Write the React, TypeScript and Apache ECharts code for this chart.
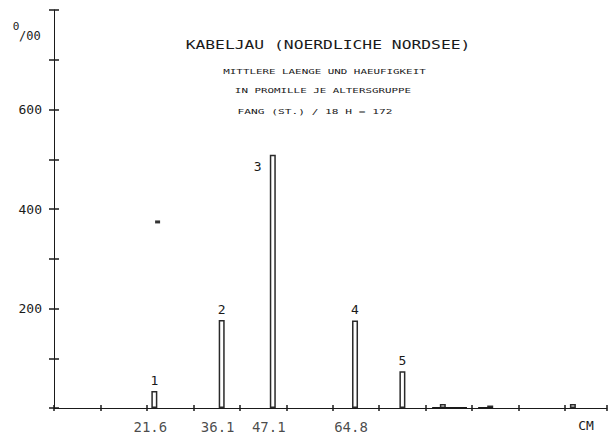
import React, { useEffect, useRef } from "react";
import * as echarts from "echarts";

// ---- data ----
const groupLabels = ["1", "2", "3", "4", "5"];
const meanLengths = [21.6, 36.1, 47.1, 64.8, 75.0];
const perMille = [34, 177, 509, 176, 74];
const minorLengths = [83.7, 93.9, 111.7];
const minorPerMille = [8, 5, 8];
const lengthTickLabels = [21.6, 36.1, 47.1, 64.8];
const yTickLabels = [200, 400, 600];
const strayMark = [[22.3, 374]];
const axisSegments = [
  [81.4, 88.9],
  [91.3, 94.5],
];

const FONT = "DejaVu Sans Mono";
const INK = "#1a1a1a";

export default function App() {
  const ref = useRef<HTMLDivElement>(null);

  useEffect(() => {
    if (!ref.current) return;
    const chart = echarts.init(ref.current, undefined, { renderer: "svg" });

    const barData = [
      ...meanLengths.map((x, i) => ({
        value: [x, perMille[i]],
        name: groupLabels[i],
        label: i === 2 ? { position: [-16, 5] } : undefined,
      })),
      ...minorLengths.map((x, i) => ({
        value: [x, minorPerMille[i]],
        name: "",
        label: { show: false },
      })),
    ];

    const xBase = {
      type: "value",
      min: 0,
      max: 119,
      interval: 10,
      position: "bottom",
      splitLine: { show: false },
      axisLabel: { show: false },
    };
    const yBase = {
      type: "value",
      min: 0,
      max: 800,
      interval: 100,
      position: "left",
      splitLine: { show: false },
    };

    const option: any = {
      animation: false,
      backgroundColor: "#ffffff",
      grid: { left: 54, top: 10, right: 1.2, bottom: 29, containLabel: false },
      xAxis: [
        {
          ...xBase,
          axisLine: { show: true, onZero: false, lineStyle: { color: INK, width: 1 } },
          axisTick: { show: true, inside: false, length: 3, lineStyle: { color: INK, width: 1.5 } },
        },
        {
          ...xBase,
          offset: 0,
          axisLine: { show: false },
          axisTick: { show: true, inside: true, length: 3, lineStyle: { color: INK, width: 1.5 } },
        },
      ],
      yAxis: [
        {
          ...yBase,
          axisLine: { show: true, onZero: false, lineStyle: { color: INK, width: 1 } },
          axisTick: { show: true, inside: false, length: 5, lineStyle: { color: INK, width: 1.5 } },
          axisLabel: {
            show: true,
            margin: 12,
            fontFamily: FONT,
            fontSize: 13,
            color: INK,
            formatter: (v: number) => (yTickLabels.includes(v) ? String(v) : ""),
          },
        },
        {
          ...yBase,
          offset: 0,
          axisLine: { show: false },
          axisTick: { show: true, inside: true, length: 5, lineStyle: { color: INK, width: 1.5 } },
          axisLabel: { show: false },
        },
      ],
      series: [
        {
          type: "bar",
          xAxisIndex: 0,
          yAxisIndex: 0,
          barWidth: 6,
          data: barData,
          itemStyle: { color: "#ffffff", borderColor: "#2a2a2a", borderWidth: 1.5 },
          label: {
            show: true,
            position: "top",
            distance: 4,
            fontFamily: FONT,
            fontSize: 13,
            color: INK,
            formatter: (p: any) => p.name,
          },
        },
        {
          type: "scatter",
          xAxisIndex: 0,
          yAxisIndex: 0,
          symbol: "rect",
          symbolSize: [5, 3],
          itemStyle: { color: "#000" },
          data: strayMark,
        },
        {
          type: "scatter",
          xAxisIndex: 0,
          yAxisIndex: 0,
          symbolSize: 1,
          itemStyle: { color: "rgba(0,0,0,0)" },
          data: lengthTickLabels.map((v) => [v, 0]),
          label: {
            show: true,
            position: "bottom",
            distance: 11,
            offset: [-4, 0],
            fontFamily: FONT,
            fontSize: 14,
            color: INK,
            formatter: (p: any) => p.value[0].toFixed(1),
          },
        },
        ...axisSegments.map((seg) => ({
          type: "line",
          xAxisIndex: 0,
          yAxisIndex: 0,
          symbol: "none",
          lineStyle: { color: INK, width: 2 },
          data: seg.map((x) => [x, 0]),
        })),
      ],
      graphic: [
        {
          type: "text",
          x: 328,
          y: 45,
          scaleX: 1.36,
          style: {
            text: "KABELJAU (NOERDLICHE NORDSEE)",
            fontFamily: FONT,
            fontSize: 12,
            fill: INK,
            textAlign: "center",
            textVerticalAlign: "middle",
          },
        },
        {
          type: "text",
          x: 324.5,
          y: 72,
          scaleX: 1.55,
          style: {
            text: "MITTLERE LAENGE UND HAEUFIGKEIT",
            fontFamily: FONT,
            fontSize: 7,
            fill: INK,
            textAlign: "center",
            textVerticalAlign: "middle",
          },
        },
        {
          type: "text",
          x: 323,
          y: 91,
          scaleX: 1.55,
          style: {
            text: "IN PROMILLE JE ALTERSGRUPPE",
            fontFamily: FONT,
            fontSize: 7,
            fill: INK,
            textAlign: "center",
            textVerticalAlign: "middle",
          },
        },
        {
          type: "text",
          x: 315,
          y: 111,
          scaleX: 1.6,
          style: {
            text: "FANG (ST.) / 18 H = 172",
            fontFamily: FONT,
            fontSize: 7,
            fill: INK,
            textAlign: "center",
            textVerticalAlign: "middle",
          },
        },
        {
          type: "text",
          x: 16,
          y: 26,
          style: {
            text: "0",
            fontFamily: FONT,
            fontSize: 11,
            fill: INK,
            textAlign: "center",
            textVerticalAlign: "middle",
          },
        },
        {
          type: "text",
          x: 19,
          y: 36,
          style: {
            text: "/00",
            fontFamily: FONT,
            fontSize: 12,
            fill: INK,
            textAlign: "left",
            textVerticalAlign: "middle",
          },
        },
        {
          type: "text",
          x: 586,
          y: 425,
          style: {
            text: "CM",
            fontFamily: FONT,
            fontSize: 13,
            fill: INK,
            textAlign: "center",
            textVerticalAlign: "middle",
          },
        },
      ],
    };

    chart.setOption(option);
    return () => chart.dispose();
  }, []);

  return (
    <div
      ref={ref}
      style={{ position: "fixed", left: 0, top: 0, width: 608, height: 437, background: "#fff" }}
    />
  );
}
